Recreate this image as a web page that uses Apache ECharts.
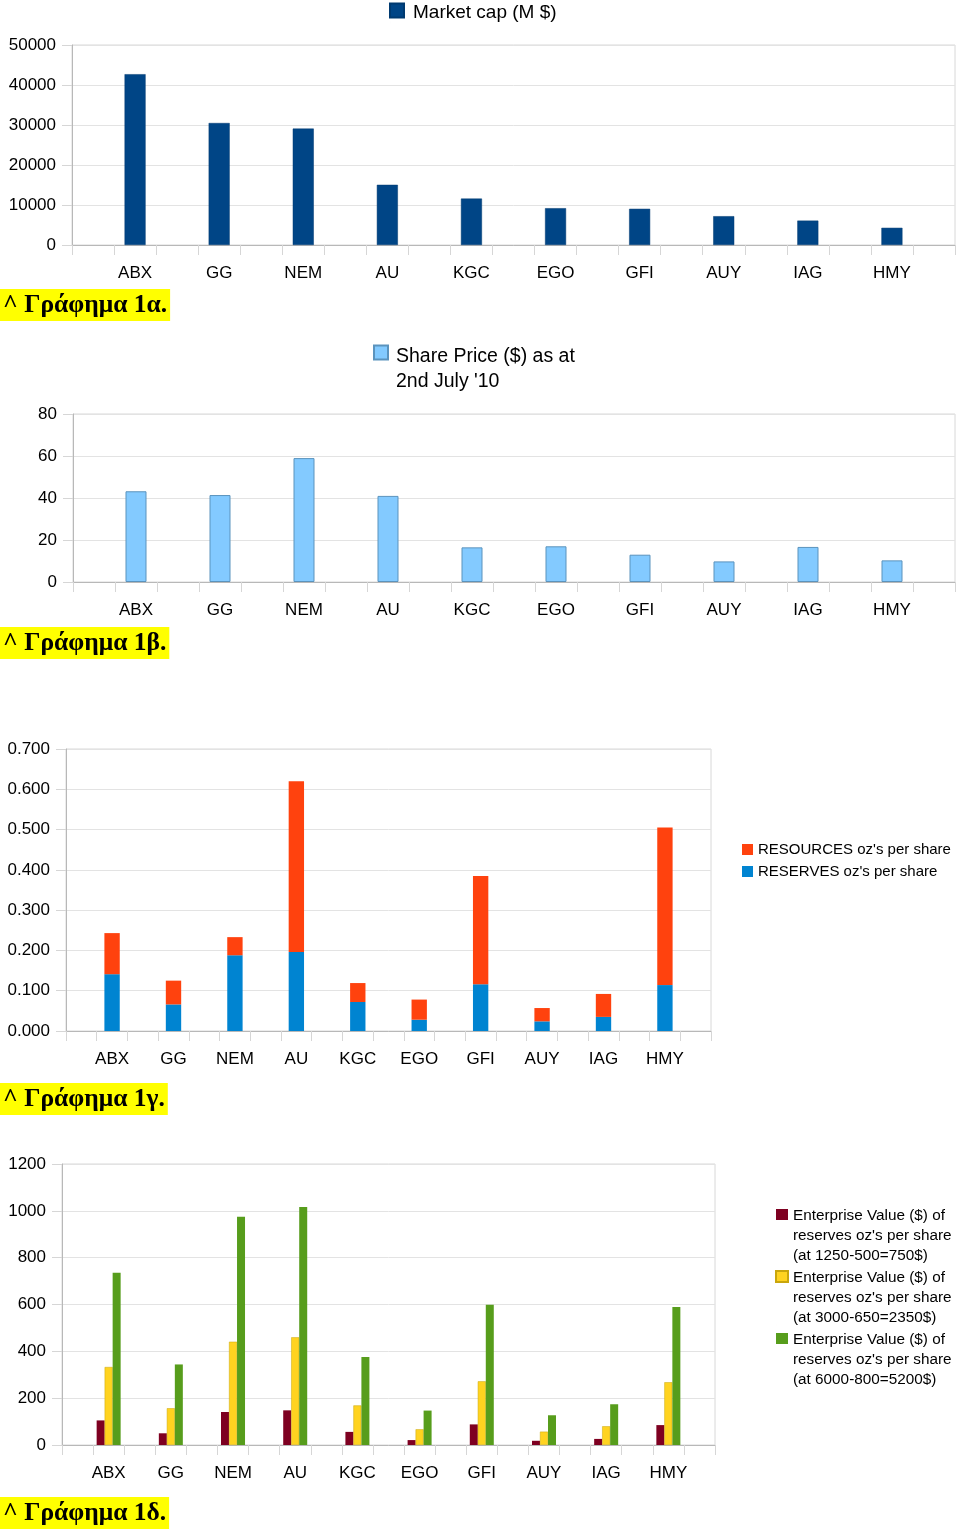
<!DOCTYPE html>
<html>
<head>
<meta charset="utf-8">
<script src="https://cdn.jsdelivr.net/npm/echarts@6/dist/echarts.min.js"></script>
<style>
html,body{margin:0;padding:0;background:#fff;}
#chart{width:960px;height:1535px;}
</style>
</head>
<body>
<div id="chart"></div>
<script>
// ---- data ----
const tickers = ['ABX', 'GG', 'NEM', 'AU', 'KGC', 'EGO', 'GFI', 'AUY', 'IAG', 'HMY'];
const marketCap = [42700, 30500, 29100, 15050, 11600, 9200, 9050, 7200, 6100, 4300];
const sharePrice = [43.2, 41.4, 59.0, 41.0, 16.5, 17.0, 13.0, 9.8, 16.7, 10.3];
const reservesOzPerShare = [0.141, 0.066, 0.188, 0.196, 0.072, 0.028, 0.116, 0.024, 0.035, 0.114];
const resourcesOzPerShare = [0.102, 0.059, 0.045, 0.424, 0.047, 0.050, 0.269, 0.033, 0.057, 0.391];
const ev750 = [105, 50, 141, 148, 56, 21, 88, 18, 26, 85];
const ev2350 = [333, 157, 441, 460, 169, 67, 272, 57, 80, 268];
const ev5200 = [736, 344, 975, 1016, 376, 147, 599, 127, 174, 589];
const captions = ['^ Γράφημα 1α.', '^ Γράφημα 1β.', '^ Γράφημα 1γ.', '^ Γράφημα 1δ.'];
const nameMarketCap = 'Market cap (M $)';
const nameSharePrice = "Share Price ($) as at\n2nd July '10";
const nameResources = "RESOURCES oz's per share";
const nameReserves = "RESERVES oz's per share";
const nameEv750 = "Enterprise Value ($) of\nreserves oz's per share\n(at 1250-500=750$)";
const nameEv2350 = "Enterprise Value ($) of\nreserves oz's per share\n(at 3000-650=2350$)";
const nameEv5200 = "Enterprise Value ($) of\nreserves oz's per share\n(at 6000-800=5200$)";

// The source sheet interleaves empty rows between tickers
let blankCount = 0;
function spreadCats(arr) {
  const out = ['\u200b'.repeat(++blankCount)];
  arr.forEach(v => { out.push(v); out.push('\u200b'.repeat(++blankCount)); });
  return out;
}
function spreadVals(arr) {
  const out = [null];
  arr.forEach(v => { out.push(v); out.push(null); });
  return out;
}

const FONT = 'Liberation Sans';
const gridLine = '#e3e3e3';
const axisGray = '#b8b8b8';
const plain = v => String(v);

function xAxis(gi) {
  return {
    type: 'category', gridIndex: gi, data: spreadCats(tickers),
    axisLine: { lineStyle: { color: axisGray } },
    axisTick: { show: true, interval: 0, length: 10, lineStyle: { color: '#d6d6d6' } },
    axisLabel: { interval: 0, margin: 20, color: '#000', fontFamily: FONT, fontSize: 17 },
    splitLine: { show: false }
  };
}
function yAxis(gi, max, interval, fmt) {
  return {
    type: 'value', gridIndex: gi, min: 0, max: max, interval: interval,
    axisLine: { show: true, lineStyle: { color: axisGray } },
    axisTick: { show: true, length: 10, lineStyle: { color: '#d6d6d6' } },
    axisLabel: { margin: 16, color: '#000', fontFamily: FONT, fontSize: 17, formatter: fmt || plain },
    splitLine: { lineStyle: { color: gridLine } }
  };
}
function caption(text, top) {
  return {
    text: text, left: 0, top: top,
    backgroundColor: '#ffff00', padding: [3, 3, 3, 3],
    textStyle: { fontFamily: 'Liberation Serif', fontWeight: 'bold', fontSize: 25.5, lineHeight: 24, color: '#000' }
  };
}
// legend square drawn at the top of a taller item box so the text starts level with it
function topIcon(w, h, boxH) {
  return 'path://M0,0L' + w + ',0L' + w + ',' + h + 'L0,' + h + 'Z M0,' + boxH + 'L0.01,' + boxH;
}
function gridBox(left, top, width, height) {
  return { left: left, top: top, width: width, height: height, show: true, borderColor: '#d8d8d8',
    borderWidth: 1, backgroundColor: 'transparent', outerBoundsMode: 'none' };
}

const chart = echarts.init(document.getElementById('chart'), null, { renderer: 'canvas' });
const option = {
  backgroundColor: '#fff',
  animation: false,
  title: [
    caption(captions[0], 290),
    caption(captions[1], 628),
    caption(captions[2], 1084),
    caption(captions[3], 1498)
  ],
  legend: [
    { data: [nameMarketCap], left: 389, top: 2.5, padding: 0, icon: topIcon(14, 14, 19), itemWidth: 14, itemHeight: 19,
      textStyle: { fontFamily: FONT, fontSize: 19, lineHeight: 20, color: '#000', padding: [0, 0, 0, 4] } },
    { data: [nameSharePrice], left: 373, top: 344, padding: 0, icon: topIcon(14, 14, 47), itemWidth: 14, itemHeight: 47,
      textStyle: { fontFamily: FONT, fontSize: 19.5, lineHeight: 25, color: '#000', padding: [0, 0, 0, 3] } },
    { data: [nameResources, nameReserves], orient: 'vertical', left: 742, top: 841, padding: 0, itemGap: 5,
      icon: 'rect', itemWidth: 11, itemHeight: 11,
      textStyle: { fontFamily: FONT, fontSize: 15, lineHeight: 17, color: '#000' } },
    { data: [nameEv750, nameEv2350, nameEv5200], orient: 'vertical', left: 775, top: 1206, padding: 0, itemGap: 2,
      icon: topIcon(12, 11, 54), itemWidth: 12, itemHeight: 54,
      textStyle: { fontFamily: FONT, fontSize: 15.3, lineHeight: 20, color: '#000' } }
  ],
  grid: [
    gridBox(72, 45, 883, 200),
    gridBox(73, 414, 882, 168),
    gridBox(66, 749, 645, 282),
    gridBox(62, 1164, 653, 281)
  ],
  xAxis: [xAxis(0), xAxis(1), xAxis(2), xAxis(3)],
  yAxis: [
    yAxis(0, 50000, 10000),
    yAxis(1, 80, 20),
    yAxis(2, 0.7, 0.1, v => v.toFixed(3)),
    yAxis(3, 1200, 200)
  ],
  series: [
    { name: nameMarketCap, type: 'bar', xAxisIndex: 0, yAxisIndex: 0, barWidth: '50%',
      itemStyle: { color: '#004586', borderColor: '#003a70', borderWidth: 0.5 }, data: spreadVals(marketCap) },
    { name: nameSharePrice, type: 'bar', xAxisIndex: 1, yAxisIndex: 1, barWidth: '50%',
      itemStyle: { color: '#83caff', borderColor: '#5b93bd', borderWidth: 1 }, data: spreadVals(sharePrice) },
    { name: nameReserves, type: 'bar', stack: 'oz', xAxisIndex: 2, yAxisIndex: 2, barWidth: '50%',
      itemStyle: { color: '#0084d1' }, data: spreadVals(reservesOzPerShare) },
    { name: nameResources, type: 'bar', stack: 'oz', xAxisIndex: 2, yAxisIndex: 2, barWidth: '50%',
      itemStyle: { color: '#ff420e' }, data: spreadVals(resourcesOzPerShare) },
    { name: nameEv750, type: 'bar', xAxisIndex: 3, yAxisIndex: 3, barWidth: 8, barGap: '0%',
      itemStyle: { color: '#7e0021' }, data: spreadVals(ev750) },
    { name: nameEv2350, type: 'bar', xAxisIndex: 3, yAxisIndex: 3, barWidth: 8, barGap: '0%',
      itemStyle: { color: '#ffd320', borderColor: '#c9a60c', borderWidth: 0.5 }, data: spreadVals(ev2350) },
    { name: nameEv5200, type: 'bar', xAxisIndex: 3, yAxisIndex: 3, barWidth: 8, barGap: '0%',
      itemStyle: { color: '#579d1c' }, data: spreadVals(ev5200) }
  ]
};
chart.setOption(option);
</script>
</body>
</html>
